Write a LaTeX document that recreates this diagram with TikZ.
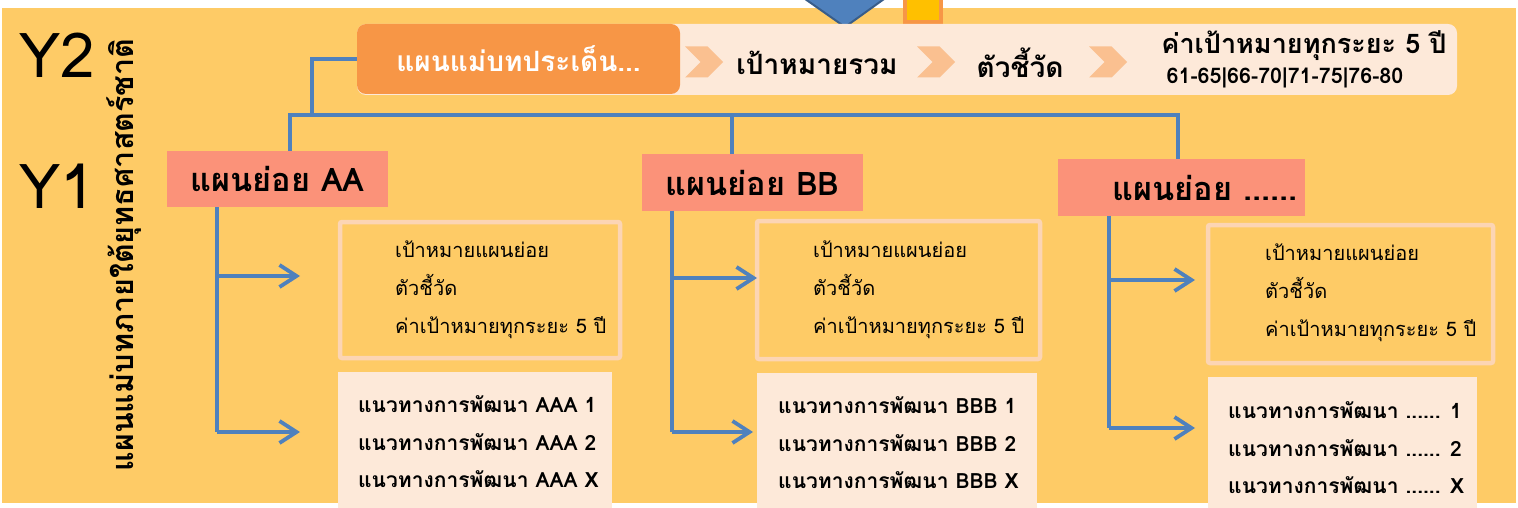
\documentclass[tikz,border=0pt]{standalone}
\usepackage{fontspec}
\setmainfont[Script=Thai]{Loma}
\usepackage{xcolor}
\usepackage{tikz}
\usetikzlibrary{positioning,arrows.meta,shapes.symbols}

\definecolor{bgyellow}{RGB}{254,203,102}
\definecolor{barpeach}{RGB}{253,233,217}
\definecolor{masterorange}{RGB}{247,150,70}
\definecolor{chevpeach}{RGB}{250,192,144}
\definecolor{subsalmon}{RGB}{251,146,121}
\definecolor{linkblue}{RGB}{79,129,189}
\definecolor{darkblue}{RGB}{56,93,138}
\definecolor{boxedge}{RGB}{252,213,180}
\definecolor{markyellow}{RGB}{255,192,0}

\begin{document}
\begin{tikzpicture}[x=1pt, y=-1pt,
    % Style definitions
    bar/.style={rectangle, rounded corners=9pt, fill=barpeach, minimum width=1100pt, minimum height=71pt},
    master/.style={rectangle, rounded corners=9pt, fill=masterorange, text=white, minimum width=323pt, minimum height=70pt, font=\fontsize{28}{32}\selectfont\bfseries},
    chev/.style={signal, signal from=west, signal to=east, fill=chevpeach, minimum width=38pt, minimum height=31pt, inner sep=0pt},
    bartext/.style={font=\fontsize{28}{32}\selectfont\bfseries},
    subplan/.style={rectangle, fill=subsalmon, minimum height=56pt, font=\fontsize{32.5}{36}\selectfont\bfseries},
    target/.style={rectangle, rounded corners=2pt, draw=boxedge, line width=4.5pt, fill=bgyellow},
    guide/.style={rectangle, fill=barpeach},
    tgttext/.style={anchor=west, align=left, inner sep=0pt, font=\fontsize{20}{38}\selectfont},
    gdtext/.style={anchor=west, align=left, inner sep=0pt, font=\fontsize{21}{37.5}\selectfont\bfseries},
    link/.style={draw=linkblue, line width=3.8pt},
    arrow/.style={link, -{Straight Barb[length=17pt, width=22pt]}},
    year/.style={font=\fontsize{62}{62}\selectfont}
]
\useasboundingbox (0,0) rectangle (1518,508);

% Background
\fill[bgyellow] (2,8) rectangle (1516,503);

% Marks at the top edge
\begin{scope}
  \clip (0,0) rectangle (1518,508);
  \draw[fill=linkblue, draw=darkblue, line width=2pt] (798,-6) -- (891,-6) -- (845,27) -- cycle;
\end{scope}
\draw[fill=markyellow, draw=masterorange, line width=4pt] (905,-4) rectangle (941,22);

% Side labels
\node[year] (y2) at (57,55) {Y2};
\node[year] (y1) at (57,186) {Y1};
\node[rotate=90, font=\fontsize{30.5}{32}\selectfont\bfseries] (title) at (124,255) {แผนแม่บทภายใต้ยุทธศาสตร์ชาติ};

% Top bar: master plan and its chain
\node[bar] (bar) at (907,59.5) {};
\node[master] (master) at (518.5,59) {แผนแม่บทประเด็น...};
\node[chev] (chev1) at (704,62) {};
\node[bartext] (goal) at (817,63) {เป้าหมายรวม};
\node[chev] (chev2) at (936,62) {};
\node[bartext] (kpi) at (1020,63) {ตัวชี้วัด};
\node[chev] (chev3) at (1108,62) {};
\node[bartext, inner sep=0pt, font=\fontsize{27}{30}\selectfont\bfseries] (value) at (1304,46) {ค่าเป้าหมายทุกระยะ 5 ปี};
\node[inner sep=0pt, font=\fontsize{21.5}{24}\selectfont\bfseries] (years) at (1285,78) {61-65|66-70|71-75|76-80};

% Sub-plans
\node[subplan, minimum width=221pt] (subA) at (277.5,179) {แผนย่อย AA};
\node[subplan, minimum width=221pt] (subB) at (752.5,182.5) {แผนย่อย BB};
\node[subplan, minimum width=247pt] (subC) at (1181.5,187.5) {\hspace*{47pt}แผนย่อย ......};

% Target boxes
\node[target, minimum width=280pt, minimum height=136pt] (tgtA) at (480,290) {};
\node[target, minimum width=283pt, minimum height=138pt] (tgtB) at (898.5,290) {};
\node[target, minimum width=285pt, minimum height=138pt] (tgtC) at (1350.5,294) {};
\node[tgttext] (tgtAtext) at (395,290) {เป้าหมายแผนย่อย\\ตัวชี้วัด\\ค่าเป้าหมายทุกระยะ 5 ปี};
\node[tgttext] (tgtBtext) at (813,290) {เป้าหมายแผนย่อย\\ตัวชี้วัด\\ค่าเป้าหมายทุกระยะ 5 ปี};
\node[tgttext] (tgtCtext) at (1265,293) {เป้าหมายแผนย่อย\\ตัวชี้วัด\\ค่าเป้าหมายทุกระยะ 5 ปี};

% Guideline boxes
\node[guide, minimum width=274pt, minimum height=138pt] (gdA) at (475,441) {};
\node[guide, minimum width=280pt, minimum height=137pt] (gdB) at (897,441.5) {};
\node[guide, minimum width=269pt, minimum height=133pt] (gdC) at (1342.5,443.5) {};
\node[gdtext] (gdAtext) at (358,442) {แนวทางการพัฒนา AAA 1\\แนวทางการพัฒนา AAA 2\\แนวทางการพัฒนา AAA X};
\node[gdtext] (gdBtext) at (778,443) {แนวทางการพัฒนา BBB 1\\แนวทางการพัฒนา BBB 2\\แนวทางการพัฒนา BBB X};
\node[gdtext] (gdCtext) at (1228,448) {แนวทางการพัฒนา ...... 1\\แนวทางการพัฒนา ...... 2\\แนวทางการพัฒนา ...... X};

% Tree from master plan to sub-plans
\coordinate (bus) at (312,115);
\coordinate (busA) at (290,115);
\coordinate (busB) at (732,115);
\coordinate (busC) at (1178,115);
\draw[link] (master.west) -| (bus);
\draw[link] (subA.north -| busA) -- (busA) -- (busC) -- (subC.north -| busC);
\draw[link] (busB) -- (subB.north -| busB);

% Branches to targets and guidelines
\coordinate (stemA) at (217,432);
\coordinate (stemB) at (672,432);
\coordinate (stemC) at (1109,428);
\coordinate (tipA1) at (300,276);
\coordinate (tipA2) at (300,432);
\coordinate (tipB1) at (757,278);
\coordinate (tipB2) at (753,432);
\coordinate (tipC1) at (1195,280);
\coordinate (tipC2) at (1195,428);

\draw[link] (subA.south -| stemA) -- (stemA);
\draw[arrow] (stemA |- tipA1) -- (tipA1);
\draw[arrow] (stemA) -- (tipA2);

\draw[link] (subB.south -| stemB) -- (stemB);
\draw[arrow] (stemB |- tipB1) -- (tipB1);
\draw[arrow] (stemB) -- (tipB2);

\draw[link] (subC.south -| stemC) -- (stemC);
\draw[arrow] (stemC |- tipC1) -- (tipC1);
\draw[arrow] (stemC) -- (tipC2);

\end{tikzpicture}
\end{document}
